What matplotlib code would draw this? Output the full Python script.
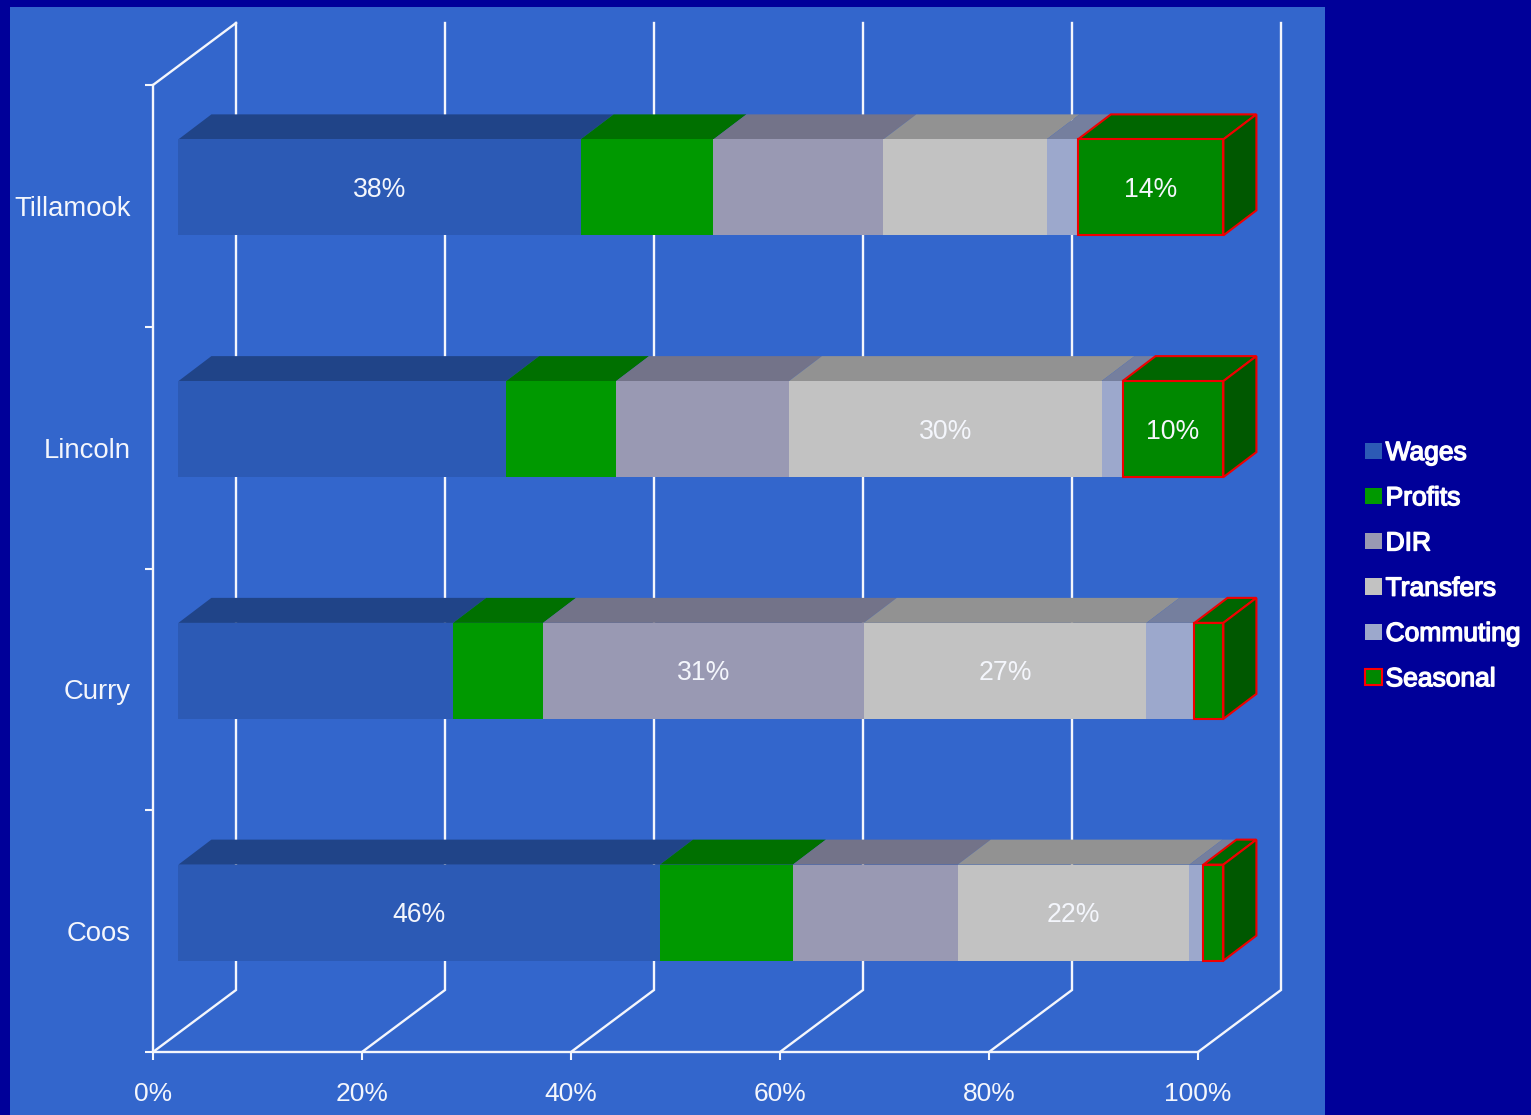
import matplotlib
matplotlib.use('Agg')
import matplotlib.pyplot as plt
import matplotlib.patheffects as pe
from matplotlib.patches import Patch, Rectangle

# Data, bottom row first
counties = ['Coos', 'Curry', 'Lincoln', 'Tillamook']
series = ['Wages', 'Profits', 'DIR', 'Transfers', 'Commuting', 'Seasonal']
wages = [46.08, 26.29, 31.36, 38.49]
profits = [12.72, 8.60, 10.52, 12.71]
dir_income = [15.77, 30.69, 16.54, 16.25]
transfers = [22.18, 27.06, 29.92, 15.63]
commuting = [1.34, 4.59, 2.01, 3.00]
seasonal = [1.91, 2.77, 9.65, 13.92]
values = [wages, profits, dir_income, transfers, commuting, seasonal]

# Only these segments carry a label: (series index, county index)
labelled = [(0, 0), (3, 0), (2, 1), (3, 1), (3, 2), (5, 2), (0, 3), (5, 3)]
x_ticks = [0, 20, 40, 60, 80, 100]
x_tick_labels = ['0%', '20%', '40%', '60%', '80%', '100%']

front_colors = ['#2C5AB5', '#009900', '#9999B3', '#C2C2C2', '#9CA8CC', '#008800']
top_colors = ['#204488', '#007000', '#737389', '#929292', '#757F9E', '#006600']
side_color = '#005800'
white = '#F4F6FC'
W, H = 1531, 1115

fig = plt.figure(figsize=(W / 100, H / 100), dpi=100, facecolor='#000099')
plt.rcParams['font.family'] = ['Liberation Sans', 'DejaVu Sans']
fig.add_artist(Rectangle((10 / W, 0), 1315 / W, 1 - 7 / H, transform=fig.transFigure,
                         facecolor='#3366CC', edgecolor='none', zorder=-1))

# Axes box is the front plane of the fake 3D chart
ax = fig.add_axes([153 / W, 1 - 1052 / H, 1045 / W, 967 / H])
ax.patch.set_visible(False)
ax.set_xlim(0, 100)
ax.set_ylim(0, 4)
px_x = 100 / 1045
px_y = 4 / 967

# Walls and floor
back_dx = 83 * px_x
back_dy = 62 * px_y
for x in x_ticks:
    ax.plot([x, x + back_dx, x + back_dx], [0, back_dy, 4 + back_dy], color=white,
            lw=1.7, clip_on=False, zorder=1, solid_joinstyle='miter')
ax.plot([0, back_dx], [4, 4 + back_dy], color=white, lw=1.7, clip_on=False, zorder=1)

# Bars
bar_h = 96 * px_y
shift_x = 25.4 * px_x
shift_y = 18.5 * px_y
depth_x = 33 * px_x
depth_y = 25 * px_y
for i, county in enumerate(counties):
    y0 = i + 0.5 + shift_y - bar_h / 2
    left = shift_x
    for s, vals in enumerate(values):
        v = vals[i]
        last = s == len(values) - 1
        edge = '#F00000' if last else 'none'
        lw = 1.5 if last else 0
        ax.fill([left, left + v, left + v + depth_x, left + depth_x],
                [y0 + bar_h, y0 + bar_h, y0 + bar_h + depth_y, y0 + bar_h + depth_y],
                facecolor=top_colors[s], edgecolor=edge, lw=lw, clip_on=False, zorder=3 + s * 0.1)
        if last:
            ax.fill([left + v, left + v + depth_x, left + v + depth_x, left + v],
                    [y0, y0 + depth_y, y0 + bar_h + depth_y, y0 + bar_h],
                    facecolor=side_color, edgecolor=edge, lw=lw, clip_on=False, zorder=3.6)
        ax.barh(y0 + bar_h / 2, v, height=bar_h, left=left, color=front_colors[s],
                edgecolor=edge, lw=lw, clip_on=False, zorder=4 + s * 0.1)
        if (s, i) in labelled:
            ax.text(left + v / 2, y0 + bar_h / 2 - 2.5 * px_y, f'{v:.0f}%', color=white,
                    fontsize=19.2, ha='center', va='center', zorder=6)
        left += v

# Axis styling
for side in ['top', 'right']:
    ax.spines[side].set_visible(False)
for side in ['left', 'bottom']:
    ax.spines[side].set_color(white)
    ax.spines[side].set_linewidth(1.7)
    ax.spines[side].set_zorder(2)
ax.set_xticks(x_ticks, x_tick_labels)
ax.set_yticks(range(5), [])
ax.set_yticks([i + 0.5 for i in range(4)], counties, minor=True)
ax.tick_params(axis='x', colors=white, length=5.8, width=1.5, pad=15.5, labelsize=19)
ax.tick_params(axis='y', which='major', color=white, length=5.8, width=1.5)
ax.tick_params(axis='y', which='minor', length=0, pad=16, labelsize=19.8, labelcolor=white)

# Legend
handles = []
for s, name in enumerate(series):
    if s == len(series) - 1:
        handles.append(Patch(facecolor=front_colors[s], edgecolor='#FF0000', lw=1.5, label=name))
    else:
        handles.append(Patch(facecolor=front_colors[s], edgecolor='none', label=name))
leg = fig.legend(handles=handles, loc='upper left', bbox_to_anchor=(1365 / W, 1 - 441 / H),
                 frameon=False, fontsize=19, labelcolor='white', handlelength=0.63,
                 handleheight=0.57, handletextpad=0.15, labelspacing=0.805,
                 borderpad=0, borderaxespad=0)
for t in leg.get_texts():
    t.set_path_effects([pe.withStroke(linewidth=1.0, foreground='white')])

fig.savefig('out.png', dpi=100, facecolor=fig.get_facecolor())
